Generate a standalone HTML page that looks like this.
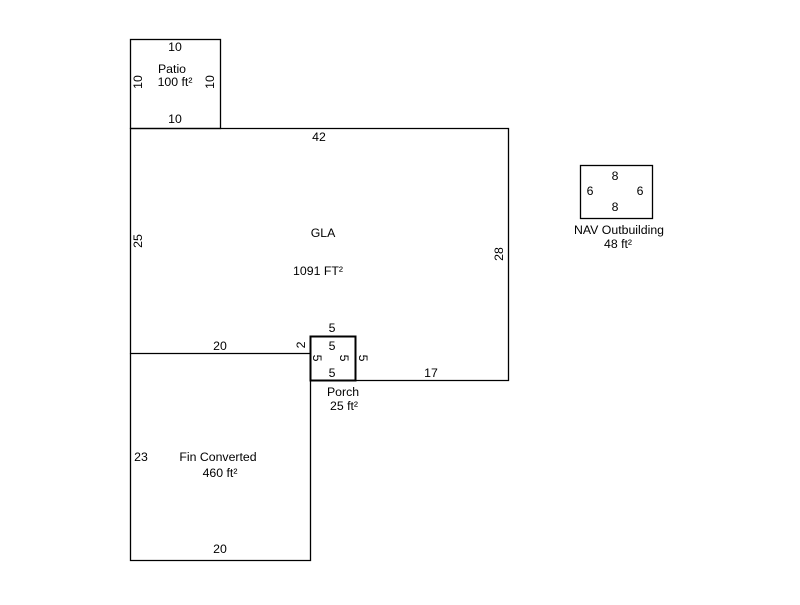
<!DOCTYPE html>
<html><head><style>body{margin:0;background:#fff}</style></head><body>
<svg width="800" height="600" xmlns="http://www.w3.org/2000/svg" font-family="Liberation Sans, sans-serif" font-size="12.3" fill="#000">
<g fill="none" stroke="#000" stroke-width="1.3">
<rect x="130.5" y="39.5" width="90" height="89"/>
<path d="M130.5 128.5 H508.5 V380.5 H310.5 V353.5 H130.5 Z"/>
<path d="M130.5 353.5 V560.5 H310.5 V380.5"/>
<rect x="310.5" y="336.5" width="45" height="44" stroke-width="2"/>
<rect x="580.5" y="165.5" width="72" height="53"/>
</g>
<g text-anchor="middle">
<text x="175" y="51">10</text>
<text x="172" y="73">Patio</text>
<text x="175" y="86">100 ft²</text>
<text x="175" y="123">10</text>
<text transform="translate(142,82) rotate(-90)">10</text>
<text transform="translate(214,82) rotate(-90)">10</text>
<text x="319" y="141">42</text>
<text x="323" y="237">GLA</text>
<text x="318" y="275">1091 FT²</text>
<text transform="translate(142,241) rotate(-90)">25</text>
<text transform="translate(503,254) rotate(-90)">28</text>
<text x="220" y="350">20</text>
<text x="332" y="332">5</text>
<text x="332" y="350">5</text>
<text x="332" y="377">5</text>
<text transform="translate(305,345) rotate(-90)">2</text>
<text transform="translate(313,358) rotate(90)">5</text>
<text transform="translate(340,358) rotate(90)">5</text>
<text transform="translate(359,358) rotate(90)">5</text>
<text x="431" y="377">17</text>
<text x="343" y="396">Porch</text>
<text x="344" y="410">25 ft²</text>
<text x="141" y="461">23</text>
<text x="218" y="461">Fin Converted</text>
<text x="220" y="477">460 ft²</text>
<text x="220" y="553">20</text>
<text x="615" y="180">8</text>
<text x="615" y="211">8</text>
<text x="590" y="195">6</text>
<text x="640" y="195">6</text>
<text x="619" y="234">NAV Outbuilding</text>
<text x="618" y="248">48 ft²</text>
</g>
</svg>
</body></html>
